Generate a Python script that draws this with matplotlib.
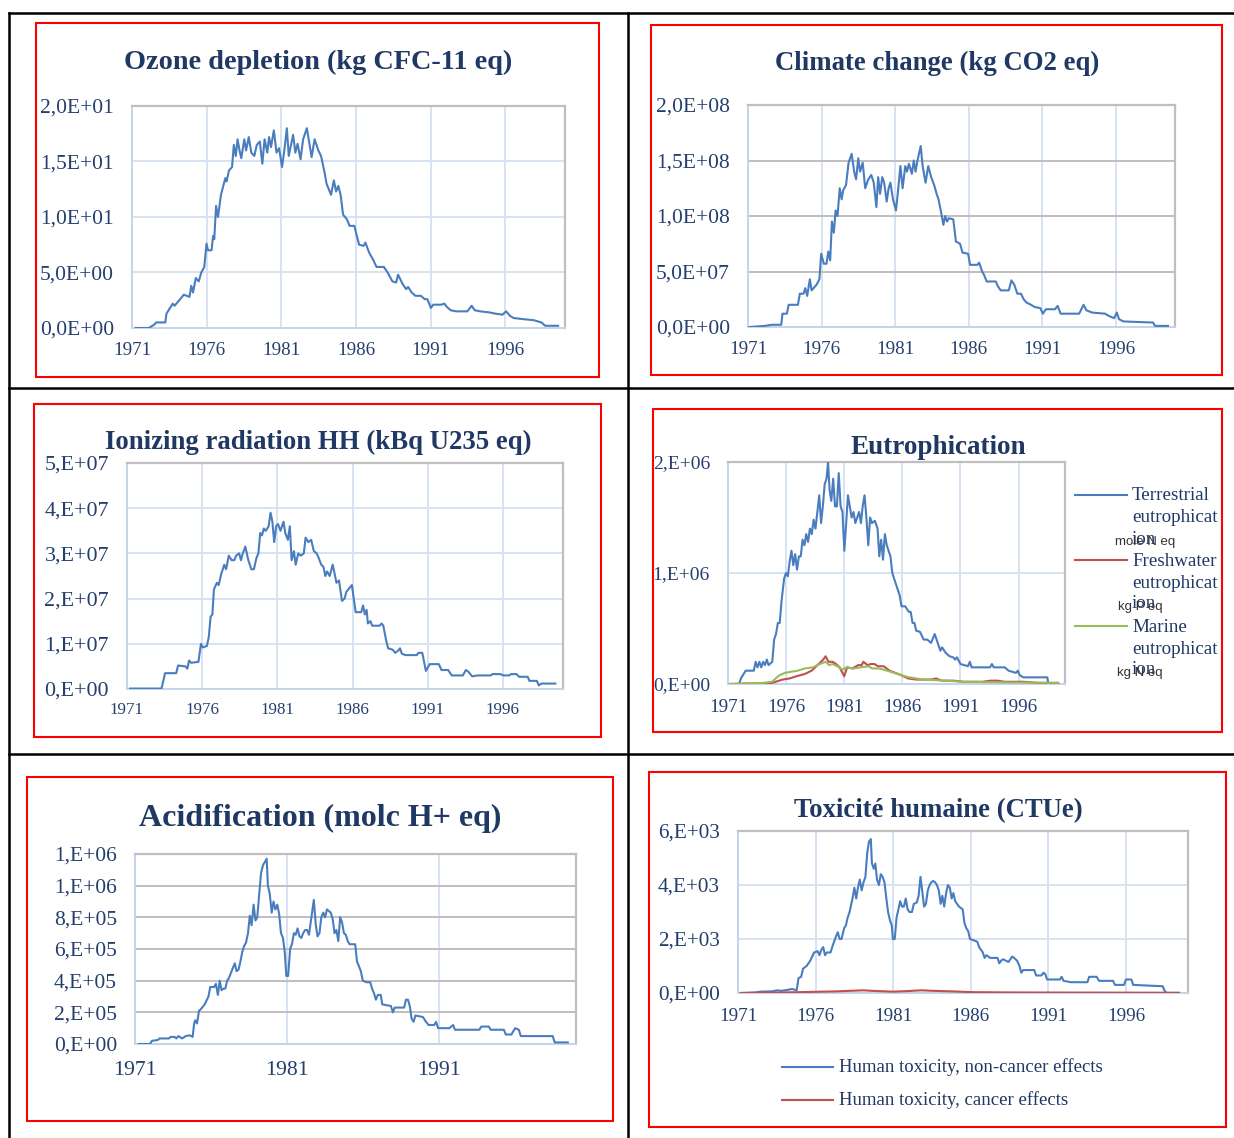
import numpy as np
import matplotlib
matplotlib.use('Agg')
import matplotlib.pyplot as plt
from matplotlib.lines import Line2D
from matplotlib.patches import Rectangle
from matplotlib.ticker import MultipleLocator, FuncFormatter

plt.rcParams['font.family'] = ['Liberation Serif', 'DejaVu Serif']

# ---- data ----
ozone_year = [1971.25, 1972.12, 1972.49, 1972.61, 1973.23, 1973.31, 1973.73, 1973.85, 1974.47, 1974.85,
              1974.97, 1975.09, 1975.27, 1975.47, 1975.64, 1975.84, 1975.99, 1976.09, 1976.33, 1976.43,
              1976.51, 1976.63, 1976.76, 1976.96, 1977.25, 1977.33, 1977.50, 1977.70, 1977.82, 1977.95,
              1978.07, 1978.20, 1978.32, 1978.52, 1978.64, 1978.82, 1978.99, 1979.19, 1979.36, 1979.56,
              1979.73, 1979.88, 1980.06, 1980.18, 1980.31, 1980.50, 1980.68, 1980.85, 1981.05, 1981.22,
              1981.37, 1981.50, 1981.79, 1981.94, 1982.09, 1982.29, 1982.46, 1982.71, 1983.03, 1983.23,
              1983.48, 1983.66, 1983.90, 1984.03, 1984.33, 1984.52, 1984.67, 1984.82, 1984.97, 1985.14,
              1985.39, 1985.57, 1985.89, 1986.21, 1986.51, 1986.63, 1986.88, 1987.13, 1987.38, 1987.87,
              1988.12, 1988.44, 1988.69, 1988.82, 1989.11, 1989.36, 1989.49, 1989.73, 1989.98, 1990.35,
              1990.60, 1990.78, 1991.02, 1991.17, 1991.72, 1991.92, 1992.09, 1992.34, 1992.71, 1993.46,
              1993.75, 1993.95, 1994.33, 1994.95, 1995.32, 1995.81, 1996.06, 1996.31, 1996.56, 1997.18,
              1997.92, 1998.42, 1998.67, 1999.54]
ozone_val = [0, 0, 0.3, 0.5, 0.5, 1.3, 2.2, 2.0, 3.0, 2.8,
             3.8, 3.2, 4.5, 4.2, 5.0, 5.5, 7.6, 7.0, 7.0, 8.3,
             8.0, 11.0, 10.0, 12.0, 13.5, 13.2, 14.2, 14.5, 16.5, 15.5,
             17.0, 16.0, 15.3, 17.0, 16.0, 17.2, 15.8, 15.5, 16.5, 16.8,
             14.8, 17.0, 15.8, 17.2, 16.3, 17.8, 15.8, 16.2, 14.5, 16.2,
             18.0, 15.5, 17.4, 15.8, 16.6, 15.2, 17.0, 18.0, 15.4, 17.0,
             16.0, 15.5, 14.0, 13.0, 12.0, 13.3, 12.3, 12.8, 12.0, 10.2,
             9.8, 9.2, 9.2, 7.5, 7.4, 7.7, 6.8, 6.2, 5.5, 5.5,
             5.0, 4.2, 4.1, 4.8, 4.0, 3.5, 3.7, 3.2, 2.9, 2.9,
             2.6, 2.6, 1.8, 2.1, 2.1, 2.2, 1.9, 1.6, 1.5, 1.5,
             2.0, 1.6, 1.5, 1.4, 1.3, 1.2, 1.5, 1.1, 0.9, 0.8,
             0.7, 0.5, 0.2, 0.2]

climate_year = [1971.10, 1972.13, 1972.63, 1973.26, 1973.34, 1973.64, 1973.76, 1974.39, 1974.52, 1974.77,
                1974.89, 1975.02, 1975.20, 1975.32, 1975.65, 1975.85, 1975.97, 1976.15, 1976.33, 1976.45,
                1976.58, 1976.70, 1976.83, 1976.95, 1977.08, 1977.23, 1977.36, 1977.46, 1977.66, 1977.83,
                1978.04, 1978.21, 1978.34, 1978.49, 1978.61, 1978.79, 1978.96, 1979.17, 1979.37, 1979.54,
                1979.72, 1979.84, 1979.97, 1980.12, 1980.25, 1980.42, 1980.55, 1980.67, 1980.85, 1981.05,
                1981.23, 1981.35, 1981.50, 1981.68, 1981.80, 1981.93, 1982.13, 1982.26, 1982.38, 1982.51,
                1982.73, 1982.86, 1983.06, 1983.24, 1983.44, 1983.64, 1983.81, 1983.94, 1984.12, 1984.27,
                1984.39, 1984.52, 1984.64, 1984.94, 1985.12, 1985.40, 1985.57, 1985.95, 1986.08, 1986.58,
                1986.70, 1986.90, 1987.03, 1987.21, 1987.83, 1987.96, 1988.16, 1988.71, 1988.89, 1989.09,
                1989.29, 1989.54, 1989.72, 1989.92, 1990.22, 1990.47, 1990.85, 1991.03, 1991.23, 1991.85,
                1992.03, 1992.23, 1993.49, 1993.79, 1993.99, 1994.37, 1995.25, 1995.50, 1995.87, 1996.05,
                1996.20, 1996.50, 1998.51, 1998.64, 1999.52]
climate_val = [0, 0.01, 0.02, 0.02, 0.12, 0.12, 0.2, 0.2, 0.3, 0.3,
               0.35, 0.28, 0.43, 0.33, 0.38, 0.43, 0.66, 0.57, 0.57, 0.68,
               0.6, 0.95, 0.85, 1.05, 1.0, 1.25, 1.15, 1.23, 1.28, 1.48,
               1.56, 1.4, 1.33, 1.52, 1.4, 1.48, 1.25, 1.33, 1.37, 1.3,
               1.08, 1.35, 1.2, 1.35, 1.3, 1.13, 1.25, 1.3, 1.15, 1.05,
               1.28, 1.45, 1.25, 1.45, 1.4, 1.47, 1.38, 1.5, 1.4, 1.5,
               1.63, 1.45, 1.3, 1.45, 1.35, 1.28, 1.2, 1.15, 1.03, 0.92,
               1.0, 0.95, 0.98, 0.97, 0.77, 0.75, 0.67, 0.66, 0.56, 0.56,
               0.58, 0.5, 0.47, 0.41, 0.41, 0.37, 0.33, 0.33, 0.42, 0.38,
               0.3, 0.3, 0.25, 0.22, 0.2, 0.18, 0.17, 0.12, 0.16, 0.16,
               0.19, 0.12, 0.12, 0.2, 0.15, 0.13, 0.12, 0.1, 0.08, 0.13,
               0.07, 0.05, 0.04, 0.01, 0.01]  # x 1e8

ionizing_year = [1971.20, 1973.29, 1973.36, 1973.53, 1974.27, 1974.40, 1974.89, 1975.01, 1975.13, 1975.26,
                 1975.75, 1975.92, 1976.04, 1976.31, 1976.44, 1976.56, 1976.68, 1976.78, 1976.98, 1977.10,
                 1977.27, 1977.47, 1977.59, 1977.77, 1977.96, 1978.14, 1978.26, 1978.46, 1978.58, 1978.70,
                 1978.87, 1979.07, 1979.27, 1979.44, 1979.61, 1979.74, 1979.86, 1979.98, 1980.10, 1980.23,
                 1980.42, 1980.55, 1980.67, 1980.79, 1980.92, 1981.04, 1981.21, 1981.41, 1981.53, 1981.70,
                 1981.83, 1981.95, 1982.10, 1982.22, 1982.39, 1982.56, 1982.76, 1982.88, 1983.06, 1983.25,
                 1983.43, 1983.62, 1983.75, 1983.92, 1984.07, 1984.19, 1984.31, 1984.48, 1984.68, 1984.78,
                 1984.93, 1985.10, 1985.30, 1985.47, 1985.59, 1985.71, 1985.96, 1986.08, 1986.21, 1986.58,
                 1986.70, 1986.82, 1986.94, 1987.02, 1987.19, 1987.31, 1987.81, 1987.93, 1988.05, 1988.22,
                 1988.37, 1988.67, 1988.84, 1989.04, 1989.16, 1989.28, 1989.53, 1990.27, 1990.39, 1990.64,
                 1990.76, 1990.88, 1991.13, 1991.74, 1991.92, 1992.36, 1992.60, 1993.34, 1993.54, 1993.71,
                 1993.96, 1994.33, 1995.19, 1995.31, 1995.80, 1996.05, 1996.42, 1996.54, 1996.91, 1997.08,
                 1997.65, 1997.77, 1998.26, 1998.39, 1998.56, 1999.49]
ionizing_val = [0.01, 0.01, 0.1, 0.35, 0.35, 0.52, 0.5, 0.45, 0.63, 0.58,
                0.6, 1.0, 0.92, 0.95, 1.15, 1.6, 1.65, 2.2, 2.35, 2.3,
                2.55, 2.75, 2.65, 2.95, 2.85, 2.85, 2.95, 3.0, 2.85, 3.0,
                3.15, 2.85, 2.65, 2.65, 2.9, 3.0, 3.45, 3.4, 3.55, 3.5,
                3.6, 3.9, 3.7, 3.25, 3.6, 3.65, 3.5, 3.7, 3.45, 3.3,
                3.6, 2.85, 3.05, 2.75, 3.0, 2.95, 3.0, 3.35, 3.25, 3.3,
                3.05, 3.0, 2.9, 2.75, 2.7, 2.5, 2.6, 2.5, 2.75, 2.6,
                2.35, 2.4, 1.95, 2.0, 2.15, 2.2, 2.3, 2.0, 1.7, 1.7,
                1.85, 1.65, 1.75, 1.45, 1.5, 1.4, 1.4, 1.45, 1.4, 1.1,
                0.9, 0.87, 0.8, 0.85, 0.9, 0.78, 0.75, 0.75, 0.8, 0.8,
                0.6, 0.4, 0.55, 0.55, 0.42, 0.42, 0.3, 0.3, 0.42, 0.38,
                0.28, 0.3, 0.3, 0.33, 0.33, 0.3, 0.3, 0.33, 0.33, 0.27,
                0.27, 0.18, 0.18, 0.08, 0.12, 0.12]  # x 1e7

terr_year = [1971.16, 1971.95, 1972.11, 1972.52, 1973.22, 1973.38, 1973.54, 1973.70, 1973.86, 1974.02,
             1974.18, 1974.34, 1974.49, 1974.81, 1974.97, 1975.13, 1975.29, 1975.45, 1975.61, 1975.83,
             1975.99, 1976.15, 1976.30, 1976.46, 1976.62, 1976.78, 1976.94, 1977.10, 1977.26, 1977.42,
             1977.58, 1977.73, 1977.89, 1978.05, 1978.21, 1978.37, 1978.53, 1978.69, 1978.85, 1979.01,
             1979.16, 1979.32, 1979.48, 1979.61, 1979.74, 1979.89, 1980.05, 1980.21, 1980.37, 1980.53,
             1980.69, 1980.85, 1981.01, 1981.17, 1981.32, 1981.48, 1981.64, 1981.80, 1981.96, 1982.12,
             1982.28, 1982.44, 1982.59, 1982.75, 1982.91, 1983.07, 1983.23, 1983.39, 1983.64, 1983.87,
             1984.02, 1984.18, 1984.34, 1984.50, 1984.66, 1984.82, 1984.98, 1985.14, 1985.29, 1985.45,
             1985.61, 1985.77, 1985.93, 1986.25, 1986.56, 1986.72, 1986.88, 1987.04, 1987.20, 1987.52,
             1987.84, 1988.15, 1988.47, 1988.79, 1988.95, 1989.27, 1989.42, 1989.74, 1990.06, 1990.38,
             1990.54, 1990.70, 1991.01, 1991.65, 1991.81, 1991.97, 1993.55, 1993.71, 1993.87, 1994.19,
             1994.82, 1995.14, 1995.78, 1995.94, 1996.10, 1996.41, 1998.48, 1998.57, 1999.43]
terr_val = [0, 0, 0.05, 0.12, 0.12, 0.2, 0.15, 0.2, 0.15, 0.2,
            0.17, 0.22, 0.17, 0.2, 0.4, 0.45, 0.55, 0.55, 0.75, 0.95,
            1.0, 0.97, 1.1, 1.2, 1.07, 1.17, 1.03, 1.15, 1.15, 1.3,
            1.25, 1.35, 1.28, 1.4, 1.35, 1.48, 1.4, 1.55, 1.7, 1.45,
            1.6, 1.8, 1.85, 2.0, 1.75, 1.65, 1.85, 1.6, 1.6, 1.9,
            1.6, 1.55, 1.2, 1.45, 1.7, 1.6, 1.5, 1.55, 1.45, 1.5,
            1.55, 1.45, 1.6, 1.7, 1.5, 1.25, 1.5, 1.45, 1.47, 1.4,
            1.15, 1.3, 1.12, 1.35, 1.25, 1.2, 1.15, 1.0, 0.95, 0.9,
            0.85, 0.8, 0.7, 0.7, 0.65, 0.65, 0.55, 0.55, 0.48, 0.47,
            0.4, 0.4, 0.37, 0.45, 0.4, 0.3, 0.33, 0.28, 0.25, 0.24,
            0.22, 0.24, 0.18, 0.16, 0.2, 0.15, 0.15, 0.18, 0.15, 0.15,
            0.15, 0.12, 0.1, 0.12, 0.08, 0.06, 0.06, 0.0, 0.0]  # x 1e6

fresh_year = [1971.2, 1974.8, 1975.7, 1976.3, 1976.9, 1977.6, 1978.2, 1978.8, 1979.2, 1979.4,
              1979.65, 1980.0, 1980.3, 1980.6, 1980.85, 1981.0, 1981.25, 1981.7, 1982.2, 1982.5,
              1982.65, 1983.0, 1983.3, 1983.6, 1983.9, 1984.4, 1984.9, 1985.4, 1985.9, 1986.5,
              1987.2, 1988.5, 1988.9, 1989.4, 1990.4, 1991.3, 1992.9, 1993.6, 1994.2, 1994.8,
              1996.4, 1997.7, 1999.4]
fresh_val = [0, 0.01, 0.04, 0.05, 0.07, 0.09, 0.12, 0.18, 0.22, 0.25,
             0.2, 0.2, 0.18, 0.15, 0.1, 0.07, 0.15, 0.14, 0.17, 0.17,
             0.2, 0.17, 0.18, 0.18, 0.16, 0.16, 0.12, 0.1, 0.08, 0.05,
             0.04, 0.04, 0.05, 0.03, 0.03, 0.02, 0.02, 0.03, 0.03, 0.02,
             0.02, 0.01, 0.01]  # x 1e6

marine_year = [1971.2, 1974.0, 1974.8, 1975.1, 1975.45, 1975.9, 1976.4, 1977.0, 1977.6, 1978.3,
               1978.9, 1979.4, 1979.7, 1980.0, 1980.4, 1980.85, 1981.2, 1981.8, 1982.4, 1983.1,
               1983.4, 1984.0, 1984.7, 1985.3, 1985.9, 1986.6, 1987.8, 1989.7, 1991.3, 1994.5,
               1999.4]
marine_val = [0, 0.01, 0.02, 0.05, 0.08, 0.1, 0.11, 0.12, 0.14, 0.15,
              0.18, 0.2, 0.17, 0.18, 0.16, 0.13, 0.15, 0.14, 0.15, 0.16,
              0.14, 0.14, 0.12, 0.1, 0.08, 0.06, 0.04, 0.03, 0.02, 0.015,
              0.01]  # x 1e6

acid_year = [1971.25, 1971.99, 1972.11, 1972.49, 1972.61, 1973.23, 1973.35, 1973.60, 1973.72, 1973.85,
             1974.09, 1974.34, 1974.59, 1974.79, 1974.89, 1974.96, 1975.08, 1975.21, 1975.33, 1975.58,
             1975.83, 1975.95, 1976.20, 1976.32, 1976.45, 1976.57, 1976.69, 1976.82, 1976.94, 1977.06,
             1977.19, 1977.44, 1977.56, 1977.68, 1977.81, 1977.93, 1978.05, 1978.18, 1978.30, 1978.43,
             1978.55, 1978.67, 1978.80, 1978.92, 1979.04, 1979.17, 1979.29, 1979.42, 1979.54, 1979.66,
             1979.74, 1979.86, 1979.99, 1980.11, 1980.23, 1980.36, 1980.48, 1980.60, 1980.73, 1980.85,
             1980.95, 1981.07, 1981.20, 1981.32, 1981.45, 1981.57, 1981.69, 1981.82, 1981.94, 1982.06,
             1982.19, 1982.31, 1982.44, 1982.63, 1982.76, 1982.88, 1983.00, 1983.13, 1983.25, 1983.38,
             1983.50, 1983.62, 1983.75, 1983.87, 1984.00, 1984.12, 1984.24, 1984.37, 1984.49, 1984.61,
             1984.74, 1984.86, 1984.99, 1985.11, 1985.48, 1985.60, 1985.73, 1985.85, 1985.98, 1986.22,
             1986.47, 1986.59, 1986.72, 1986.84, 1986.97, 1987.16, 1987.26, 1987.83, 1987.96, 1988.08,
             1988.70, 1988.82, 1988.95, 1989.07, 1989.19, 1989.32, 1989.44, 1989.94, 1990.13, 1990.31,
             1990.68, 1990.80, 1990.93, 1991.67, 1991.92, 1992.04, 1993.65, 1993.77, 1994.27, 1994.39,
             1995.26, 1995.38, 1995.75, 1996.00, 1996.24, 1996.37, 1998.47, 1998.60, 1999.46]
acid_val = [0, 0, 0.2, 0.25, 0.35, 0.35, 0.45, 0.45, 0.35, 0.5,
            0.35, 0.5, 0.55, 0.45, 1.3, 1.5, 1.3, 2.1, 2.2, 2.5,
            3.0, 3.6, 3.6, 3.8, 3.1, 4.0, 3.4, 3.5, 3.5, 4.0,
            4.2, 4.8, 5.1, 4.6, 4.7, 5.2, 5.8, 6.2, 6.4, 7.0,
            8.1, 7.5, 8.8, 7.8, 8.0, 9.5, 10.8, 11.3, 11.5, 11.7,
            10.0, 9.5, 8.3, 9.0, 8.5, 8.8, 8.2, 7.0, 6.7, 5.8,
            4.3, 4.3, 6.0, 6.3, 7.0, 6.9, 7.3, 6.8, 6.7, 7.0,
            7.2, 7.2, 6.9, 8.2, 9.1, 7.6, 6.8, 7.0, 8.0, 8.3,
            8.0, 8.5, 8.4, 8.3, 7.9, 7.0, 7.2, 6.5, 8.0, 7.7,
            7.0, 6.9, 6.5, 6.3, 6.3, 5.2, 4.9, 4.6, 4.0, 3.9,
            3.9, 3.5, 3.2, 2.8, 3.1, 3.1, 2.5, 2.4, 2.0, 2.3,
            2.3, 2.8, 2.8, 2.4, 1.6, 1.4, 1.8, 1.7, 1.4, 1.2,
            1.2, 1.4, 1.0, 1.0, 1.2, 0.9, 0.9, 1.1, 1.1, 0.9,
            0.9, 0.6, 0.6, 1.0, 0.9, 0.5, 0.5, 0.1, 0.1]  # x 1e5

tox_year = [1971.17, 1972.11, 1972.47, 1973.18, 1973.53, 1973.77, 1974.24, 1974.48, 1974.78, 1974.90,
            1975.07, 1975.19, 1975.42, 1975.66, 1975.90, 1976.13, 1976.25, 1976.37, 1976.49, 1976.61,
            1976.72, 1976.96, 1977.13, 1977.32, 1977.43, 1977.55, 1977.67, 1977.84, 1977.95, 1978.07,
            1978.19, 1978.38, 1978.50, 1978.62, 1978.73, 1978.85, 1978.97, 1979.09, 1979.21, 1979.33,
            1979.44, 1979.56, 1979.63, 1979.75, 1979.85, 1979.96, 1980.08, 1980.20, 1980.32, 1980.44,
            1980.56, 1980.67, 1980.79, 1980.91, 1980.98, 1981.10, 1981.22, 1981.34, 1981.45, 1981.57,
            1981.69, 1981.81, 1981.93, 1982.05, 1982.21, 1982.33, 1982.52, 1982.64, 1982.76, 1982.87,
            1982.99, 1983.11, 1983.23, 1983.35, 1983.46, 1983.58, 1983.70, 1983.82, 1983.94, 1984.06,
            1984.17, 1984.29, 1984.41, 1984.53, 1984.65, 1984.77, 1984.88, 1985.00, 1985.12, 1985.24,
            1985.48, 1985.59, 1985.71, 1985.83, 1985.95, 1986.18, 1986.42, 1986.54, 1986.66, 1986.78,
            1986.89, 1987.01, 1987.25, 1987.72, 1987.84, 1987.96, 1988.08, 1988.43, 1988.67, 1988.79,
            1988.98, 1989.14, 1989.26, 1989.38, 1990.09, 1990.21, 1990.56, 1990.68, 1990.80, 1990.92,
            1991.74, 1991.86, 1991.98, 1992.45, 1993.52, 1993.63, 1994.11, 1994.27, 1995.17, 1995.29,
            1995.88, 1996.00, 1996.35, 1996.47, 1998.37, 1998.48, 1998.60, 1999.43]
tox_val = [0, 0.02, 0.05, 0.06, 0.1, 0.08, 0.12, 0.15, 0.1, 0.55,
           0.6, 0.9, 1.0, 1.2, 1.5, 1.55, 1.4, 1.6, 1.7, 1.4,
           1.5, 1.5, 1.8, 2.1, 2.25, 2.0, 2.0, 2.4, 2.5, 2.8,
           3.0, 3.5, 3.9, 3.5, 3.9, 4.2, 3.8, 4.1, 4.3, 5.2,
           5.6, 5.7, 4.8, 4.6, 4.8, 4.2, 4.0, 4.4, 4.3, 4.1,
           3.5, 3.0, 2.7, 2.5, 2.0, 2.0, 2.8, 3.1, 3.4, 3.2,
           3.2, 3.5, 3.1, 3.0, 3.0, 3.3, 3.35, 3.6, 4.3, 3.8,
           3.2, 3.3, 3.8, 4.0, 4.1, 4.15, 4.1, 4.0, 3.8, 3.3,
           3.6, 3.2, 3.7, 4.0, 3.9, 3.5, 3.7, 3.4, 3.3, 3.2,
           3.1, 2.6, 2.4, 2.3, 2.0, 1.95, 1.9, 1.7, 1.6, 1.5,
           1.3, 1.4, 1.3, 1.3, 1.1, 1.2, 1.25, 1.15, 1.35, 1.3,
           1.2, 1.0, 0.75, 0.85, 0.85, 0.65, 0.65, 0.75, 0.7, 0.5,
           0.5, 0.6, 0.45, 0.4, 0.4, 0.6, 0.6, 0.45, 0.45, 0.3,
           0.3, 0.5, 0.5, 0.3, 0.25, 0.1, 0.0, 0.0]  # x 1e3

tox_cancer_year = [1971.17, 1972.5, 1974.9, 1977.3, 1979.1, 1979.6, 1981.0, 1981.9, 1982.8, 1983.6,
                   1984.8, 1986.2, 1989.0, 1999.4]
tox_cancer_val = [0, 0.01, 0.03, 0.06, 0.1, 0.08, 0.05, 0.07, 0.1, 0.08,
                  0.06, 0.03, 0.02, 0.01]  # x 1e3

# ---- style ----
W, H = 1234, 1138
NAVY = '#1F3864'
TICK = '#243F6E'
BLUE = '#4A7DBF'
RED = '#C0504D'
GREEN = '#9BBB59'
GRID_BLUE = '#D6E2F2'
GRID_GRAY = '#BFBFBF'

fig = plt.figure(figsize=(W / 100, H / 100), dpi=100)


def frac(l, t, r, b):
    return [l / W, 1 - b / H, (r - l) / W, (b - t) / H]


def fline(x1, y1, x2, y2, **kw):
    fig.add_artist(Line2D([x1 / W, x2 / W], [1 - y1 / H, 1 - y2 / H],
                          transform=fig.transFigure, **kw))


def ftext(x, y, s, **kw):
    fig.text(x / W, 1 - y / H, s, **kw)


def sci_fmt(dec):
    def f(v, pos):
        if abs(v) < 1e-12:
            m, e = 0.0, 0
        else:
            e = int(np.floor(np.log10(abs(v)) + 1e-9))
            m = v / 10 ** e
        s = f"{m:.{dec}f}".replace('.', ',')
        if dec == 0:
            s += ','
        return f"{s}E{e:+03d}"
    return FuncFormatter(f)


def panel(box, lines, ymax, ystep, dec, xstep, hgrid, ysize, xsize, xpad):
    ax = fig.add_axes(frac(*box))
    for x, y, c in lines:
        ax.plot(x, y, color=c, lw=1.5, zorder=3)
    ax.set_xlim(1971, 2000)
    ax.set_ylim(0, ymax)
    ax.yaxis.set_major_locator(MultipleLocator(ystep))
    ax.yaxis.set_major_formatter(sci_fmt(dec))
    ax.set_xticks(np.arange(1971, 2000, xstep))
    ax.grid(True, axis='x', color=GRID_BLUE, lw=1.4, zorder=0)
    ax.grid(True, axis='y', color=hgrid, lw=1.4, zorder=0)
    ax.set_axisbelow(True)
    ax.tick_params(length=0, colors=TICK)
    ax.tick_params(axis='y', labelsize=ysize, pad=13)
    ax.tick_params(axis='x', labelsize=xsize, pad=xpad)
    for s in ('top', 'right'):
        ax.spines[s].set_color(GRID_GRAY)
        ax.spines[s].set_linewidth(1.6)
    for s in ('left', 'bottom'):
        ax.spines[s].set_color('#C3D4EC')
        ax.spines[s].set_linewidth(1.4)
    return ax


# Ozone depletion
panel((132, 106, 565, 328), [(ozone_year, ozone_val, BLUE)],
      20, 5, 1, 5, GRID_BLUE, 15.5, 13.7, 10)
# Climate change
panel((748, 105, 1175, 327), [(climate_year, np.array(climate_val) * 1e8, BLUE)],
      2e8, 5e7, 1, 5, GRID_GRAY, 15.5, 13.7, 10)
# Ionizing radiation
panel((127, 463, 563, 689), [(ionizing_year, np.array(ionizing_val) * 1e7, BLUE)],
      5e7, 1e7, 0, 5, GRID_BLUE, 15.8, 12.2, 9.5)
# Eutrophication
panel((728, 462, 1065, 684), [(terr_year, np.array(terr_val) * 1e6, BLUE),
                              (fresh_year, np.array(fresh_val) * 1e6, RED),
                              (marine_year, np.array(marine_val) * 1e6, GREEN)],
      2e6, 1e6, 0, 5, GRID_BLUE, 14, 13.8, 10.5)
# Acidification
panel((135, 854, 576, 1044), [(acid_year, np.array(acid_val) * 1e5, BLUE)],
      1.2e6, 2e5, 0, 10, GRID_GRAY, 15.5, 15.6, 12)
# Human toxicity
panel((738, 831, 1188, 993), [(tox_year, np.array(tox_val) * 1e3, BLUE),
                              (tox_cancer_year, np.array(tox_cancer_val) * 1e3, RED)],
      6e3, 2e3, 0, 5, GRID_BLUE, 15.3, 13.7, 11)

# titles
tkw = dict(ha='center', va='center', color=NAVY, fontweight='bold')
ftext(318, 62, 'Ozone depletion (kg CFC-11 eq)', fontsize=20.3, **tkw)
ftext(937, 63, 'Climate change (kg CO2 eq)', fontsize=19.3, **tkw)
ftext(318, 442, 'Ionizing radiation HH (kBq U235 eq)', fontsize=19.3, **tkw)
ftext(938, 447, 'Eutrophication', fontsize=19.5, **tkw)
ftext(320, 818, 'Acidification (molc H+ eq)', fontsize=23, **tkw)
ftext(938, 811, 'Toxicité humaine (CTUe)', fontsize=19.3, **tkw)

# Eutrophication legend
lkw = dict(ha='left', va='center', color=NAVY, fontsize=13.7)
ukw = dict(ha='center', va='center', color='#333333', fontsize=9.5,
           family=['Liberation Sans', 'DejaVu Sans'])
for y0, name, unit, c in [(495, 'Terrestrial', 'mole N eq', BLUE),
                          (560, 'Freshwater', 'kg P eq', RED),
                          (626, 'Marine', 'kg N eq', GREEN)]:
    fline(1075, y0, 1127, y0, color=c, lw=1.5)
    ftext(1132, y0 + 1, name, **lkw)
    ftext(1132, y0 + 23, 'eutrophicat', **lkw)
    ftext(1132, y0 + 44, 'ion', **lkw)
    ftext(1145 if unit.startswith('mole') else 1140, y0 + 47, unit, **ukw)

# Toxicity legend
for y0, name, c in [(1067, 'Human toxicity, non-cancer effects', BLUE),
                    (1100, 'Human toxicity, cancer effects', RED)]:
    fline(782, y0, 833, y0, color=c, lw=1.5)
    ftext(839, y0, name, **dict(lkw, fontsize=13.5))

# red frames around each chart
for l, t, r, b in [(36, 23, 599, 377), (651, 25, 1222, 375),
                   (34, 404, 601, 737), (653, 409, 1222, 732),
                   (27, 777, 613, 1121), (649, 772, 1226, 1127)]:
    fig.add_artist(Rectangle((l / W, 1 - b / H), (r - l) / W, (b - t) / H,
                             transform=fig.transFigure, fill=False,
                             edgecolor='#FF0000', lw=1.5))

# table borders
tb = dict(color='black', lw=1.8)
fline(9, 13, W, 13, **tb)
fline(9, 13, 9, H, **tb)
fline(628, 13, 628, H, **tb)
fline(9, 388, W, 388, **tb)
fline(9, 754, W, 754, **tb)

fig.savefig('out.png', dpi=100)
